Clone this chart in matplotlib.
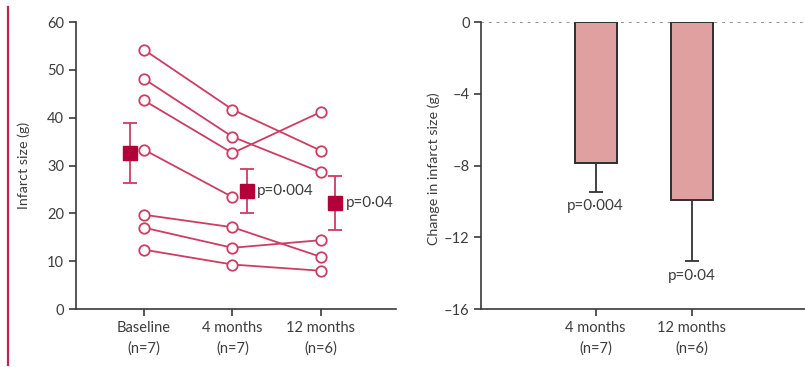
import matplotlib
matplotlib.use("Agg")
import matplotlib.pyplot as plt
from matplotlib.lines import Line2D

plt.rcParams['font.family'] = ['Lato', 'DejaVu Sans']

# Individual patient infarct sizes (g) at each visit; None = no 12-month scan
timepoints = ["Baseline\n(n=7)", "4 months\n(n=7)", "12 months\n(n=6)"]
patients = [
    [54.2, 41.7, 33.1],
    [48.1, 36.0, 28.6],
    [43.6, 32.6, 41.2],
    [33.3, 23.4, None],
    [19.7, 17.1, 10.9],
    [17.0, 12.8, 14.4],
    [12.4, 9.3, 8.0],
]
group_mean = [32.6, 24.7, 22.2]
group_err = [6.2, 4.6, 5.6]
mean_labels = [None, "p=0·004", "p=0·04"]

# Change from baseline (g)
change_labels = ["4 months\n(n=7)", "12 months\n(n=6)"]
change_mean = [-7.85, -9.9]
change_err = [1.6, 3.45]
change_p = ["p=0·004", "p=0·04"]

line_red = "#cc3d63"
mean_red = "#b2003b"
text_col = "#3d3d3d"
axis_col = "#3a3a3a"
tick_fs = 10.5
label_fs = 10.3

fig = plt.figure(figsize=(8.05, 3.67), dpi=100)

# decorative rule at the left margin
fig.add_artist(Line2D([0.010, 0.010], [0.005, 0.98], color="#c0244f", lw=1.6,
                      transform=fig.transFigure))

# ---------- left panel: individual trajectories ----------
ax1 = fig.add_axes([0.0944, 0.158, 0.3976, 0.782])
xs = list(range(len(timepoints)))
for vals in patients:
    px = [x for x, v in zip(xs, vals) if v is not None]
    py = [v for v in vals if v is not None]
    ax1.plot(px, py, color=line_red, lw=1.3, marker="o", ms=7.5,
             mfc="white", mec=line_red, mew=1.3, zorder=3)

offsets = [-0.16, 0.16, 0.16]
for x, m, e, off, lab in zip(xs, group_mean, group_err, offsets, mean_labels):
    ax1.errorbar(x + off, m, yerr=e, fmt="s", color=mean_red, ms=10,
                 ecolor=line_red, elinewidth=1.3, capsize=5, capthick=1.3,
                 zorder=4)
    if lab:
        ax1.text(x + off + 0.12, m, lab, ha="left", va="center",
                 fontsize=11, color=text_col)

ax1.set_xlim(-0.77, 2.85)
ax1.set_ylim(0, 60)
ax1.set_yticks(range(0, 61, 10))
ax1.set_xticks(xs)
ax1.set_xticklabels(timepoints, fontsize=tick_fs, color=text_col,
                    linespacing=1.55)
ax1.set_ylabel("Infarct size (g)", fontsize=label_fs, color=text_col)
ax1.yaxis.set_label_coords(-0.144, 0.5)
for s in ["top", "right"]:
    ax1.spines[s].set_visible(False)
for s in ["left", "bottom"]:
    ax1.spines[s].set_color(axis_col)
    ax1.spines[s].set_linewidth(1.2)
ax1.tick_params(axis="both", colors=axis_col, labelcolor=text_col,
                labelsize=tick_fs, length=5, width=1.2)

# ---------- right panel: change from baseline ----------
ax2 = fig.add_axes([0.598, 0.158, 0.402, 0.782])
bx = list(range(len(change_labels)))
ax2.bar(bx, change_mean, width=0.435, color="#e0a0a0", edgecolor="#2e2e2e",
        linewidth=1.4, zorder=2)
ax2.errorbar(bx, change_mean, yerr=[change_err, [0] * len(bx)], fmt="none",
             ecolor="#333333", elinewidth=1.3, capsize=5, capthick=1.3,
             zorder=3)
for x, m, e, p in zip(bx, change_mean, change_err, change_p):
    ax2.text(x, m - e - 0.4, p, ha="center", va="top", fontsize=11,
             color=text_col)

ax2.axhline(0, color="#7d9c96", lw=1.4, ls=(0, (1.5, 2.5)), zorder=1)
ax2.set_xlim(-1.19, 2.18)
ax2.set_ylim(-16, 0)
ax2.set_yticks([0, -4, -8, -12, -16])
ax2.set_yticklabels(["0", "–4", "–8", "–12", "–16"])
ax2.set_xticks(bx)
ax2.set_xticklabels(change_labels, fontsize=tick_fs, color=text_col,
                    linespacing=1.55)
ax2.set_ylabel("Change in infarct size (g)", fontsize=label_fs,
               color=text_col)
ax2.yaxis.set_label_coords(-0.129, 0.49)
for s in ["top", "right"]:
    ax2.spines[s].set_visible(False)
for s in ["left", "bottom"]:
    ax2.spines[s].set_color(axis_col)
    ax2.spines[s].set_linewidth(1.2)
ax2.tick_params(axis="both", colors=axis_col, labelcolor=text_col,
                labelsize=tick_fs, length=5, width=1.2)

fig.savefig("out.png", dpi=100)
